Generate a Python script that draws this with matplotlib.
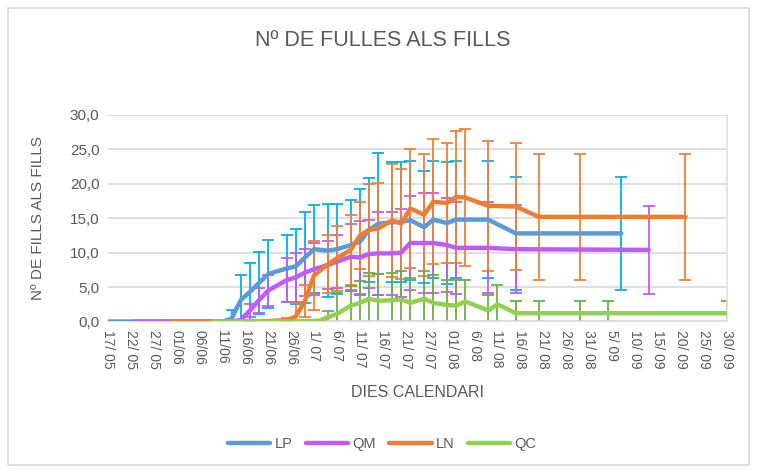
import matplotlib
matplotlib.use("Agg")
import matplotlib.pyplot as plt
from matplotlib.patches import Rectangle

plt.rcParams['font.family'] = ['Liberation Sans', 'DejaVu Sans']

# days counted from 17/05
tick_days = list(range(0, 136, 5))
tick_labels = ["17/ 05", "22/ 05", "27/ 05", "01/06", "06/06", "11/06", "16/06",
               "21/06", "26/06", "1/ 07", "6/ 07", "11/ 07", "16/ 07", "21/ 07",
               "27/ 07", "01/ 08", "6/ 08", "11/ 08", "16/ 08", "21/ 08", "26/ 08",
               "31/ 08", "5/ 09", "10/ 09", "15/ 09", "20/ 09", "25/ 09", "30/ 09"]

lp_days = [0, 6, 13, 20, 25, 27, 29, 31, 33, 35, 39, 41, 43, 45, 48, 50, 53, 55,
           57, 59, 62, 64, 66, 69, 71, 74, 76, 83, 89, 112]
lp_vals = [0, 0, 0, 0, 0, 0.4, 3.1, 4.3, 5.6, 6.9, 7.7, 8.0, 9.3, 10.5, 10.3, 10.5,
           11.1, 11.6, 13.3, 14.2, 14.4, 14.5, 14.7, 13.7, 14.8, 14.3, 14.8, 14.8,
           12.8, 12.8]
lp_err = [0, 0, 0, 0, 0, 1.3, 3.6, 4.2, 4.5, 4.9, 4.9, 5.4, 6.6, 6.4, 6.7, 6.5,
          6.6, 7.7, 7.5, 10.3, 8.7, 8.7, 8.6, 8.1, 8.5, 8.9, 8.5, 8.5, 8.2, 8.2]

qm_days = [6, 13, 20, 27, 29, 31, 33, 35, 39, 41, 43, 45, 48, 50, 53, 55, 57, 59,
           62, 64, 66, 69, 71, 74, 76, 83, 89, 118]
qm_vals = [0, 0, 0, 0, 0.2, 1.6, 3.1, 4.5, 6.0, 6.4, 7.1, 7.6, 8.2, 8.7, 9.4, 9.3,
           9.8, 9.9, 9.9, 10.0, 11.4, 11.4, 11.4, 11.1, 10.7, 10.7, 10.5, 10.4]
qm_err = [0, 0, 0, 0, 0, 1.0, 1.8, 2.3, 3.2, 3.5, 3.4, 3.8, 3.5, 3.9, 4.8, 5.3,
          4.9, 6.0, 6.0, 6.4, 6.8, 7.2, 7.3, 6.8, 6.7, 6.6, 6.4, 6.4]

ln_days = [14, 20, 27, 33, 39, 41, 43, 45, 48, 50, 53, 55, 57, 59, 62, 64, 66, 69,
           71, 74, 76, 78, 83, 89, 94, 103, 126]
ln_vals = [0, 0, 0, 0, 0.2, 0.7, 3.0, 6.7, 8.3, 9.2, 10.4, 12.5, 13.3, 13.5, 14.7,
           14.2, 16.4, 15.5, 17.4, 17.2, 18.1, 18.0, 16.8, 16.7, 15.2, 15.2, 15.2]
ln_err = [0, 0, 0, 0, 0.3, 2.0, 2.3, 5.0, 4.2, 4.7, 5.1, 4.9, 6.7, 6.6, 8.2, 8.0,
          8.7, 8.9, 9.1, 8.7, 9.6, 9.9, 9.4, 9.2, 9.2, 9.2, 9.2]

qc_days = [23, 31, 39, 46, 48, 50, 53, 55, 57, 59, 62, 64, 66, 69, 71, 74, 76, 78,
           83, 85, 89, 94, 103, 109, 135]
qc_vals = [0, 0, 0, 0.1, 0.6, 1.1, 2.3, 2.7, 3.3, 3.0, 3.1, 3.2, 2.7, 3.3, 2.7,
           2.4, 2.3, 2.9, 1.6, 2.5, 1.2, 1.2, 1.2, 1.2, 1.2]
qc_err = [0, 0, 0, 0, 0.9, 3.1, 2.9, 3.2, 3.8, 3.9, 4.0, 4.2, 3.6, 4.1, 4.0, 3.6,
          3.7, 3.2, 2.3, 2.8, 1.8, 1.8, 1.8, 1.8, 1.8]

series = [
    ("LP", lp_days, lp_vals, lp_err, "#5B9BD5", "#00B0F0"),
    ("QM", qm_days, qm_vals, qm_err, "#BF5BF7", "#C15CF5"),
    ("LN", ln_days, ln_vals, ln_err, "#ED7D31", "#EE8136"),
    ("QC", qc_days, qc_vals, qc_err, "#92D050", "#70AD47"),
]

fig = plt.figure(figsize=(7.57, 4.73), dpi=100)
ax = fig.add_axes([0.1423, 0.3203, 0.8177, 0.4366])

# error bars first, lines drawn over all of them
for name, days, vals, err, lc, ec in series:
    d = [x for x, e in zip(days, err) if e > 0]
    v = [y for y, e in zip(vals, err) if e > 0]
    e = [e for e in err if e > 0]
    ax.errorbar(d, v, yerr=e, fmt='none', ecolor=ec, elinewidth=1.3,
                capsize=4.5, capthick=1.3, zorder=2)

for name, days, vals, err, lc, ec in series:
    ax.plot(days, vals, color=lc, linewidth=3.2, label=name, zorder=3,
            solid_capstyle='round', solid_joinstyle='round')

ax.set_xlim(0, 135)
ax.set_ylim(0, 30)
ax.set_xticks(tick_days)
ax.set_xticklabels(tick_labels, rotation=-90, fontsize=10, color='#595959')
yt = [0, 5, 10, 15, 20, 25, 30]
ax.set_yticks(yt)
ax.set_yticklabels([f"{v:.1f}".replace('.', ',') for v in yt],
                   fontsize=11, color='#595959')
ax.tick_params(axis='both', length=0, pad=6)
ax.grid(axis='y', color='#D9D9D9', linewidth=1.2, zorder=0)
ax.set_axisbelow(True)
for s in ['left', 'top']:
    ax.spines[s].set_visible(False)
ax.spines['right'].set_color('#E0E0E0')
ax.spines['right'].set_linewidth(1.2)
ax.spines['bottom'].set_color('#D9D9D9')
ax.spines['bottom'].set_linewidth(1.2)

ax.set_xlabel("DIES CALENDARI", fontsize=11.5, color='#595959', labelpad=12)
ax.set_ylabel("Nº DE FILLS ALS FILLS", fontsize=11, color='#595959', labelpad=18)

fig.text(0.506, 1 - 41 / 473, "Nº DE FULLES ALS FILLS", ha='center', va='center',
         fontsize=15.5, color='#595959')

fig.legend(loc='center', bbox_to_anchor=(0.505, 1 - 444 / 473), ncol=4,
           frameon=False, fontsize=10.5, handlelength=2.9, columnspacing=0.9,
           handletextpad=0.3, labelcolor='#595959')

fig.patches.append(Rectangle((8 / 757, 8 / 473), 741 / 757, 457 / 473,
                             transform=fig.transFigure, fill=False,
                             edgecolor='#D9D9D9', linewidth=1.2))

fig.savefig("out.png", dpi=100)
